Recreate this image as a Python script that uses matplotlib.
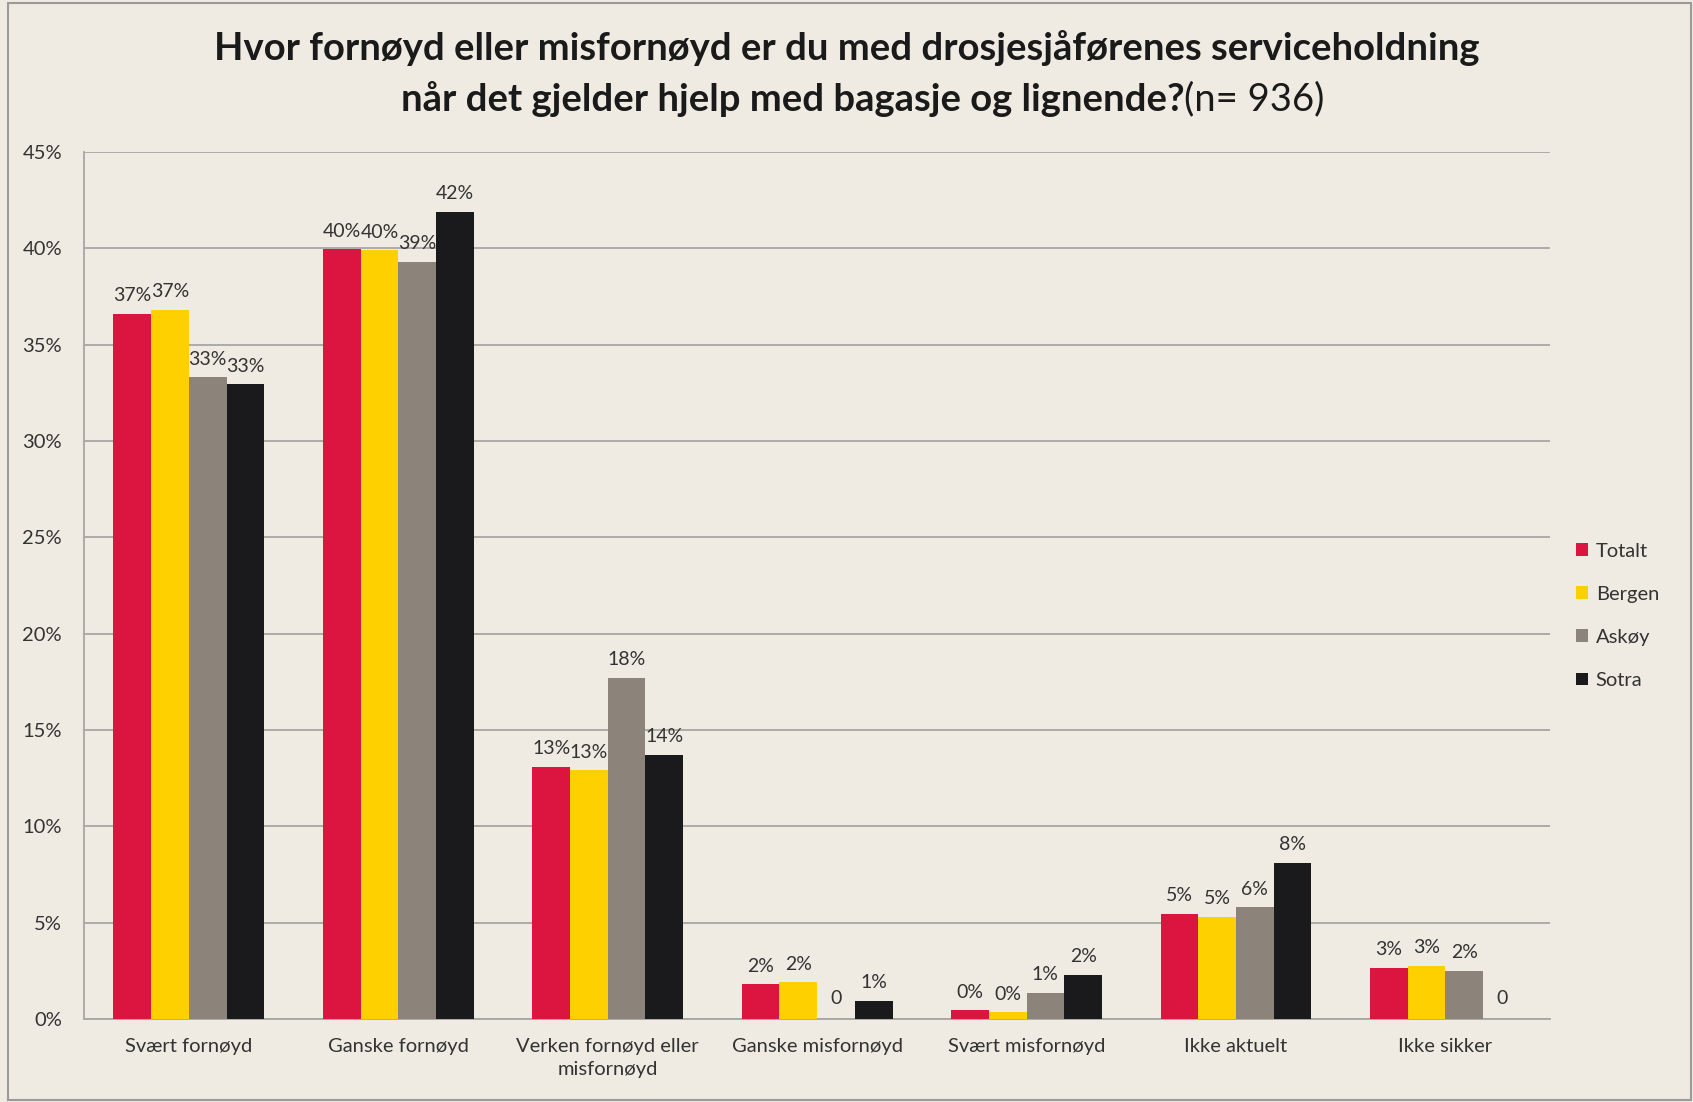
import matplotlib.pyplot as plt
import numpy as np
from matplotlib.patches import Rectangle

# data
kategorier = ["Svært fornøyd", "Ganske fornøyd", "Verken fornøyd eller\nmisfornøyd",
              "Ganske misfornøyd", "Svært misfornøyd", "Ikke aktuelt", "Ikke sikker"]
serier = ["Totalt", "Bergen", "Askøy", "Sotra"]
totalt = [36.6, 39.95, 13.1, 1.8, 0.45, 5.45, 2.65]
bergen = [36.8, 39.9, 12.9, 1.9, 0.35, 5.3, 2.75]
askoy = [33.3, 39.3, 17.7, 0.0, 1.35, 5.8, 2.5]
sotra = [32.95, 41.9, 13.7, 0.95, 2.3, 8.1, 0.0]
verdier = [totalt, bergen, askoy, sotra]
farger = ["#DC1440", "#FFD000", "#8C837A", "#1A191C"]

bg = "#EFEBE3"
plt.rcParams['font.family'] = ['Lato', 'DejaVu Sans']

fig = plt.figure(figsize=(16.93, 11.02), dpi=100, facecolor=bg)
ax = fig.add_axes([0.0497, 0.0753, 0.8659, 0.7867], facecolor=bg)

x = np.arange(len(kategorier))
b = 0.18
for i, (navn, v, f) in enumerate(zip(serier, verdier, farger)):
    pos = x + (i - 1.5) * b
    ax.bar(pos, v, b, color=f, label=navn, zorder=3)
    for px, val in zip(pos, v):
        tekst = "0" if val == 0 else "{:.0f}%".format(val)
        ax.text(px, val + 0.5 if val > 0 else 0.6, tekst, ha="center", va="bottom",
                fontsize=14, color="#333333", zorder=4)

ax.set_xlim(-0.5, 6.5)
ax.set_ylim(0, 45)
ax.set_yticks(np.arange(0, 46, 5))
ax.set_yticklabels(["{}%".format(t) for t in range(0, 46, 5)], fontsize=14.5, color="#333333")
ax.set_xticks(x)
ax.set_xticklabels(kategorier, fontsize=14.5, color="#333333", linespacing=1.4)
ax.tick_params(length=0, pad=14)
ax.tick_params(axis="y", pad=16)
ax.yaxis.grid(True, color="#A8A6A2", linewidth=1.3, zorder=0)
for s in ["top", "right"]:
    ax.spines[s].set_visible(False)
for s in ["left", "bottom"]:
    ax.spines[s].set_color("#A8A6A2")
    ax.spines[s].set_linewidth(1.3)

leg = ax.legend(loc="center left", bbox_to_anchor=(1.005, 0.465), frameon=False,
                fontsize=14.5, handlelength=0.6, handleheight=0.6, handletextpad=0.4,
                labelspacing=1.3)
for t in leg.get_texts():
    t.set_color("#333333")

fig.text(0.5, 0.956, "Hvor fornøyd eller misfornøyd er du med drosjesjåførenes serviceholdning",
         ha="center", va="center", fontsize=27.5, fontweight="bold", color="#1a1a1a")
fig.text(0.6996, 0.910, "når det gjelder hjelp med bagasje og lignende?",
         ha="right", va="center", fontsize=27.5, fontweight="bold", color="#1a1a1a")
fig.text(0.6996, 0.910, "(n= 936)", ha="left", va="center", fontsize=27.5, color="#1a1a1a")

fig.patches.append(Rectangle((0.005, 0.002), 0.994, 0.995, transform=fig.transFigure,
                             fill=False, edgecolor="#9a9a9a", linewidth=1.5))

fig.savefig("out.png", dpi=100, facecolor=bg)
